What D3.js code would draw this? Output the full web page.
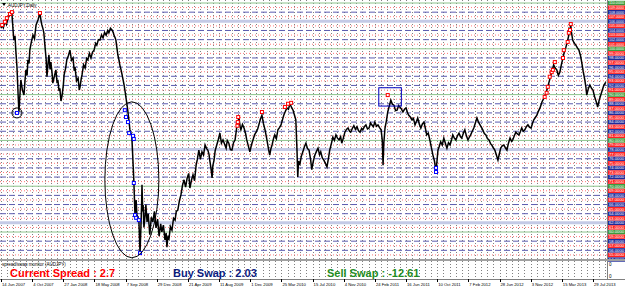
<!DOCTYPE html>
<html>
<head>
<meta charset="utf-8">
<script src="https://cdn.jsdelivr.net/npm/d3@7"></script>
<style>
  body { margin: 0; background: #fff; }
  svg { display: block; font-family: "Liberation Sans", Arial, sans-serif; }
</style>
</head>
<body>
<div id="chart"></div>
<script>
// tick labels along the time axis, one every 80 daily bars
var dateLabels = ["14 Jun 2007", "4 Oct 2007", "27 Jan 2008", "18 May 2008", "7 Sep 2008",
    "29 Dec 2008", "21 Apr 2009", "11 Aug 2009", "1 Dec 2009", "25 Mar 2010",
    "15 Jul 2010", "4 Nov 2010", "24 Feb 2011", "16 Jun 2011", "10 Oct 2011",
    "7 Feb 2012", "28 Jun 2012", "3 Nov 2012", "15 Mar 2013", "29 Jul 2013"];

// AUDJPY daily, [bar index, price]
var closes = [[0,104.5],[3,105.2],[6,104.6],[10,105.9],[14,105.3],[18,106.7],[23,107.6],[28,107.8],
    [31,104.0],[33,101.9],[36,102.8],[38,99.7],[41,96.0],[44,89.9],[46,86.2],[49,90.5],[51,93.2],
    [55,91.0],[59,89.9],[62,93.5],[64,95.4],[67,94.2],[69,97.6],[72,96.8],[74,99.7],[78,101.5],
    [82,103.0],[86,102.2],[90,105.2],[95,106.3],[100,107.8],[103,106.0],[105,105.2],[108,104.3],
    [110,103.5],[113,100.5],[116,97.6],[118,93.9],[121,97.0],[123,98.7],[126,95.5],[128,97.1],
    [131,94.8],[133,92.5],[137,94.0],[141,95.4],[144,92.5],[146,93.2],[149,90.8],[151,91.4],
    [154,88.6],[157,89.9],[160,92.0],[162,94.3],[166,95.8],[169,97.6],[173,98.5],[177,99.7],
    [181,97.5],[185,98.0],[188,95.2],[190,96.0],[194,93.0],[198,93.6],[201,91.0],[203,91.7],
    [206,93.5],[208,94.3],[212,96.5],[216,95.8],[220,97.9],[223,97.6],[227,99.0],[231,98.0],
    [235,99.3],[239,99.7],[243,101.2],[246,100.8],[250,102.0],[254,101.9],[258,103.0],[262,102.4],
    [266,103.6],[270,103.0],[274,104.0],[277,103.5],[281,104.5],[285,104.1],[288,103.6],[290,103.0],
    [293,102.4],[295,101.9],[298,100.0],[300,98.7],[303,97.5],[305,96.5],[308,95.5],[311,94.3],
    [314,93.0],[316,92.1],[319,90.5],[321,89.3],[324,87.5],[326,86.2],[329,84.0],[331,82.3],
    [334,81.5],[336,80.7],[338,77.0],[341,71.4],[344,63.7],[347,67.0],[349,63.7],[352,63.1],
    [354,62.6],[357,55.4],[359,60.4],[361,66.0],[362,70.3],[364,64.5],[365,65.9],[367,61.0],
    [370,63.7],[372,66.0],[375,62.2],[378,64.0],[382,59.4],[386,63.2],[390,62.2],[394,64.5],
    [398,60.9],[402,62.8],[406,59.1],[410,61.8],[413,60.0],[417,61.5],[421,58.3],[424,59.8],
    [426,56.7],[429,59.2],[431,58.3],[435,61.2],[439,60.4],[443,63.0],[447,62.6],[450,64.5],
    [454,64.8],[458,66.8],[462,68.1],[466,70.2],[470,71.4],[474,69.8],[478,71.8],[482,72.8],
    [485,69.6],[489,71.3],[493,72.5],[497,71.2],[501,74.6],[504,75.8],[508,77.9],[512,75.9],
    [516,77.5],[520,76.8],[524,79.0],[528,78.2],[531,77.9],[534,77.0],[536,75.7],[539,74.0],
    [542,71.8],[544,74.5],[547,75.7],[550,77.8],[554,79.0],[558,80.2],[562,81.6],[566,79.4],
    [570,80.1],[574,79.2],[578,78.3],[581,80.0],[585,79.4],[589,78.0],[593,77.9],[597,79.5],
    [601,80.1],[604,82.0],[606,83.4],[611,84.9],[614,83.0],[616,82.3],[620,83.5],[624,82.7],
    [628,81.5],[631,80.1],[635,78.8],[639,77.5],[643,79.0],[647,80.1],[651,81.2],[655,81.8],
    [659,82.5],[662,83.4],[666,84.6],[670,85.5],[674,83.6],[678,82.3],[682,80.5],[685,79.0],
    [688,77.6],[690,76.8],[693,78.2],[696,79.0],[700,80.5],[703,81.2],[707,80.4],[711,82.3],
    [715,82.8],[719,83.4],[723,84.6],[726,85.5],[730,86.3],[734,87.1],[738,86.8],[742,88.0],
    [746,87.2],[750,86.6],[754,85.4],[757,84.5],[760,77.9],[762,72.0],[764,75.5],[767,74.6],
    [771,76.5],[775,77.5],[779,78.6],[783,79.4],[787,78.2],[791,77.9],[795,75.8],[798,73.6],
    [802,75.5],[806,76.8],[810,77.6],[814,78.3],[818,76.9],[821,77.5],[825,76.2],[829,75.7],
    [833,75.0],[837,74.2],[841,76.2],[844,77.9],[848,79.2],[852,80.7],[856,80.0],[860,81.2],
    [864,80.5],[868,80.1],[872,80.8],[875,79.4],[879,80.5],[883,81.8],[887,82.4],[891,82.7],
    [895,82.0],[898,81.8],[902,82.6],[906,83.2],[910,82.4],[914,83.0],[918,82.1],[922,81.8],
    [926,82.6],[929,82.3],[933,83.0],[937,83.4],[941,82.5],[945,82.7],[949,83.8],[952,83.4],
    [956,83.0],[960,84.0],[964,83.1],[968,83.4],[972,82.8],[976,82.3],[979,80.0],[981,74.6],
    [983,79.5],[986,82.7],[990,84.5],[993,86.2],[997,87.5],[1001,88.8],[1005,87.9],[1009,87.7],
    [1013,86.5],[1017,86.6],[1021,87.6],[1024,87.3],[1028,86.9],[1032,86.2],[1036,86.8],[1040,87.1],
    [1044,86.0],[1047,85.5],[1051,85.1],[1055,84.5],[1059,84.8],[1063,83.4],[1067,84.2],[1070,84.9],
    [1074,83.6],[1078,82.7],[1082,83.6],[1086,84.0],[1090,82.5],[1093,81.2],[1097,81.6],[1101,80.1],
    [1105,78.5],[1109,76.8],[1113,75.5],[1117,73.1],[1120,76.0],[1122,77.9],[1125,78.6],[1129,79.7],
    [1133,79.0],[1137,80.5],[1141,79.4],[1145,78.3],[1149,79.5],[1153,79.0],[1157,80.2],[1160,81.2],
    [1164,80.5],[1168,80.1],[1172,81.0],[1176,81.6],[1180,80.8],[1183,80.5],[1187,81.5],[1191,82.3],
    [1195,81.0],[1199,80.1],[1203,80.8],[1206,81.2],[1210,82.0],[1214,82.7],[1218,83.8],[1222,84.9],
    [1226,84.0],[1230,83.4],[1234,82.8],[1237,82.3],[1241,81.5],[1245,81.2],[1249,80.4],[1253,80.1],
    [1257,79.3],[1260,79.0],[1264,78.4],[1268,77.9],[1272,76.8],[1276,75.7],[1280,77.2],[1283,78.3],
    [1287,78.8],[1291,79.0],[1295,78.4],[1299,77.9],[1303,79.4],[1307,80.5],[1311,79.8],[1314,80.1],
    [1318,81.0],[1322,81.8],[1326,81.4],[1330,81.2],[1334,82.0],[1337,82.7],[1341,82.0],[1345,82.3],
    [1349,83.0],[1353,83.4],[1357,82.9],[1361,82.7],[1365,83.8],[1368,84.5],[1372,85.0],[1376,85.5],
    [1380,86.4],[1384,87.1],[1389,88.4],[1392,88.9],[1396,89.5],[1400,90.5],[1404,91.7],[1408,93.0],
    [1412,94.3],[1416,95.5],[1419,96.5],[1423,95.8],[1427,95.4],[1431,94.2],[1435,94.9],[1439,96.6],
    [1443,98.0],[1446,99.2],[1450,100.2],[1454,101.5],[1458,103.0],[1461,104.3],[1463,105.2],
    [1465,103.4],[1468,101.9],[1472,101.2],[1476,100.8],[1480,100.2],[1484,99.7],[1488,98.5],
    [1491,97.1],[1495,95.0],[1499,93.2],[1502,91.5],[1504,89.9],[1508,91.3],[1512,92.1],[1516,91.4],
    [1520,91.0],[1524,89.6],[1527,88.8],[1530,88.0],[1532,87.3],[1536,88.8],[1540,89.9],[1544,91.0],
    [1548,92.1],[1553,92.7]];

// swap signal boxes
var highMarks = [[3,105.2],[10,105.9],[15,106.7],[23,107.6],[28,108.0],[100,107.8],
    [607,83.2],[608,84.0],[609,85.1],[670,86.2],[729,87.3],[737,88.0],[745,88.2],[993,89.9],
    [1396,89.5],[1401,90.4],[1404,91.7],[1409,93.9],[1414,94.9],[1417,95.4],[1422,97.1],
    [1443,98.0],[1445,99.7],[1455,101.5],[1458,103.5],[1461,104.1],[1463,105.4]];
var lowMarks = [[41,86.0],[318,86.6],[321,85.1],[326,84.0],[329,81.6],[339,81.0],[341,80.3],
    [341,70.7],[344,63.7],[347,63.1],[354,62.6],[357,55.4],[1117,74.0],[1117,73.1]];

var levels = d3.range(54, 111);
var wideLevels = [106, 78, 62];
var spread = 2.7, buySwap = 2.03, sellSwap = -12.61;

var W = 625, H = 288;
var plotRight = 607, mainBottom = 259, paneBottom = 279;
var barsPerLabel = 80;

var x = d3.scaleLinear().domain([0, 1556]).range([1, plotRight]);
var y = d3.scaleLinear().domain([54, 110]).range([259.5, 3]);

var svg = d3.select("#chart").append("svg")
    .attr("width", W).attr("height", H);

svg.append("rect").attr("width", W).attr("height", H).attr("fill", "#fff");

svg.append("clipPath").attr("id", "main")
    .append("rect").attr("x", 0).attr("y", 0).attr("width", plotRight).attr("height", mainBottom);

// vertical separators
var vGrid = d3.range(0, 1556, 16);
svg.append("g").selectAll("line").data(vGrid).enter().append("line")
    .attr("x1", d => Math.round(x(d)) + 0.5).attr("x2", d => Math.round(x(d)) + 0.5)
    .attr("y1", 0).attr("y2", paneBottom)
    .attr("stroke", "#808080").attr("stroke-width", 1)
    .attr("stroke-dasharray", "1,2");

// price levels
function isWide(d) { return wideLevels.indexOf(d) >= 0; }
var lv = svg.append("g").attr("clip-path", "url(#main)");
lv.selectAll("line").data(levels).enter().append("line")
    .attr("x1", 0).attr("x2", plotRight)
    .attr("y1", d => y(d)).attr("y2", d => y(d))
    .attr("stroke", function(d) {
        if (isWide(d)) return "#c4cae6";
        if (d % 10 === 0) return "#8cc48c";
        return d % 2 === 0 ? "#5c5cb0" : "#ff7a7a";
    })
    .attr("stroke-width", d => isWide(d) ? 3 : 1)
    .attr("stroke-dasharray", function(d) {
        if (isWide(d) || d % 10 === 0) return null;
        return d % 2 === 0 ? "6,3" : "1,2";
    });

// price
var line = d3.line().x(d => x(d[0])).y(d => y(d[1]));
svg.append("path").datum(closes)
    .attr("clip-path", "url(#main)")
    .attr("d", line)
    .attr("fill", "none").attr("stroke", "#000").attr("stroke-width", 1.5);

svg.append("g").selectAll("rect").data(highMarks).enter().append("rect")
    .attr("x", d => x(d[0]) - 1.5).attr("y", d => y(d[1]) - 1.5)
    .attr("width", 3).attr("height", 3)
    .attr("fill", "#fff").attr("stroke", "#ff0000").attr("stroke-width", 1);

svg.append("g").selectAll("rect").data(lowMarks).enter().append("rect")
    .attr("x", d => x(d[0]) - 1.5).attr("y", d => y(d[1]) - 1.5)
    .attr("width", 3).attr("height", 3)
    .attr("fill", "#fff").attr("stroke", "#0000ff").attr("stroke-width", 1);

// hand drawn annotations
svg.append("ellipse")
    .attr("cx", x(336)).attr("cy", y(71.4)).attr("rx", 27).attr("ry", 78)
    .attr("fill", "none").attr("stroke", "#000").attr("stroke-width", 1);
svg.append("circle")
    .attr("cx", x(41)).attr("cy", y(86.0)).attr("r", 5)
    .attr("fill", "none").attr("stroke", "#000").attr("stroke-width", 1);
svg.append("rect")
    .attr("x", x(970)).attr("y", y(91.5)).attr("width", x(1028) - x(970)).attr("height", y(87.5) - y(91.5))
    .attr("fill", "none").attr("stroke", "#0000c0").attr("stroke-width", 1);

// price labels on the right
var lab = svg.append("g");
lab.append("rect").attr("x", plotRight).attr("y", 0).attr("width", W - plotRight).attr("height", mainBottom)
    .attr("fill", "#fff");
lab.selectAll("rect.lvl").data(levels).enter().append("rect").attr("class", "lvl")
    .attr("x", plotRight + 1).attr("y", d => y(d) - 2.2)
    .attr("width", W - plotRight).attr("height", 4.4)
    .attr("fill", function(d) {
        if (d % 10 === 0) return "#3c9a3c";
        return d % 2 === 0 ? "#1e2a9a" : "#ff2020";
    });
lab.selectAll("text").data(levels).enter().append("text")
    .attr("x", plotRight + 2).attr("y", d => y(d) + 1.4)
    .attr("font-size", 3.8).attr("fill", "#fff")
    .attr("textLength", 15).attr("lengthAdjust", "spacingAndGlyphs")
    .text(d => d3.format(".4f")(d));

svg.append("line").attr("x1", plotRight + 0.5).attr("x2", plotRight + 0.5)
    .attr("y1", 0).attr("y2", paneBottom).attr("stroke", "#808080");

// title
svg.append("path").attr("d", "M2,3 L6,3 L4,6 Z").attr("fill", "#000");
svg.append("text").attr("x", 8).attr("y", 7).attr("font-size", 4.5).attr("fill", "#000")
    .text("AUDJPY,Daily");

// indicator pane
svg.append("rect").attr("x", 0).attr("y", mainBottom).attr("width", W).attr("height", 2)
    .attr("fill", "#a0a0a0");
svg.append("line").attr("x1", 0).attr("x2", W).attr("y1", paneBottom + 0.5).attr("y2", paneBottom + 0.5)
    .attr("stroke", "#808080");
svg.append("text").attr("x", 2).attr("y", 266).attr("font-size", 4.5).attr("fill", "#000")
    .text("spread/swap monitor (AUDJPY)");
svg.append("text").attr("x", plotRight + 2).attr("y", 266).attr("font-size", 4.5).text("0");
svg.append("text").attr("x", plotRight + 2).attr("y", 278).attr("font-size", 4.5).text("0");

var big = [
    { t: "Current Spread : " + spread, c: "#ff0000", x: 10 },
    { t: "Buy Swap : " + buySwap, c: "#0c1c80", x: 173 },
    { t: "Sell Swap : " + sellSwap, c: "#1e8c1e", x: 327 }
];
svg.append("g").selectAll("text").data(big).enter().append("text")
    .attr("x", d => d.x).attr("y", 277)
    .attr("font-weight", "bold").attr("font-size", 11)
    .attr("fill", d => d.c).text(d => d.t);

// time axis
var ax = svg.append("g");
ax.selectAll("line").data(dateLabels).enter().append("line")
    .attr("x1", (d, i) => Math.round(x(i * barsPerLabel)) + 0.5)
    .attr("x2", (d, i) => Math.round(x(i * barsPerLabel)) + 0.5)
    .attr("y1", paneBottom).attr("y2", paneBottom + 3).attr("stroke", "#000");
ax.selectAll("text").data(dateLabels).enter().append("text")
    .attr("x", (d, i) => x(i * barsPerLabel) + 1).attr("y", 286)
    .attr("font-size", 4.2).attr("fill", "#000")
    .text(d => d);
</script>
</body>
</html>
